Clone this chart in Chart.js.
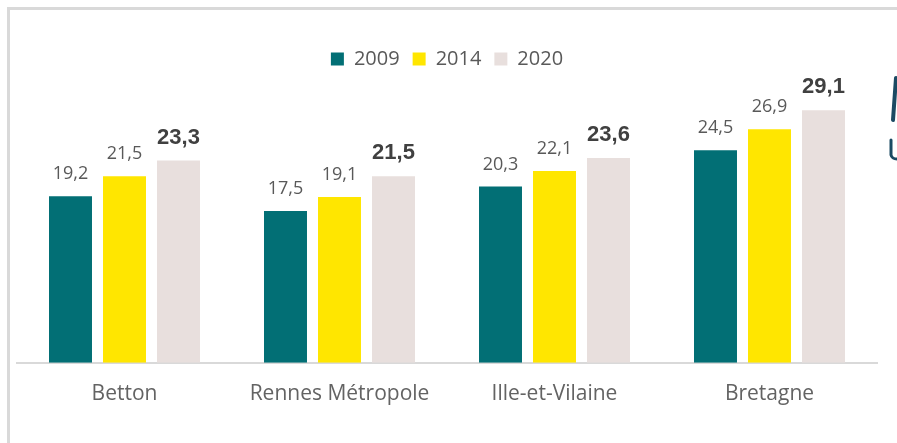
<!DOCTYPE html>
<html>
<head>
<meta charset="utf-8">
<script src="https://cdn.jsdelivr.net/npm/chart.js@4"></script>
<style>
  html, body { margin: 0; padding: 0; background: #fff; overflow: hidden; }
  #wrap { position: relative; width: 897px; height: 443px; }
  #frame {
    position: absolute; left: 7px; top: 7px; right: -10px; bottom: -10px;
    border-left: 3px solid #d9d9d9; border-top: 3px solid #d9d9d9;
  }
  canvas { position: absolute; left: 0; top: 0; }
</style>
</head>
<body>
<div id="wrap">
  <div id="frame"></div>
  <canvas id="chart" width="897" height="443"></canvas>
</div>
<script>
const categories = ['Betton', 'Rennes Métropole', 'Ille-et-Vilaine', 'Bretagne'];
const seriesNames = ['2009', '2014', '2020'];
const values2009 = [19.2, 17.5, 20.3, 24.5];
const values2014 = [21.5, 19.1, 22.1, 26.9];
const values2020 = [23.3, 21.5, 23.6, 29.1];
const colors = ['#026f75', '#ffe600', '#e8dfdd'];

const fmt = v => v.toFixed(1).replace('.', ',');

// value labels above each bar, last series in bold
const barLabels = {
    id: 'barLabels',
    afterDatasetsDraw(chart) {
        const ctx = chart.ctx;
        ctx.save();
        ctx.textAlign = 'center';
        ctx.textBaseline = 'alphabetic';
        chart.data.datasets.forEach((ds, i) => {
            const meta = chart.getDatasetMeta(i);
            const last = i === chart.data.datasets.length - 1;
            ctx.font = last ? 'bold 22px "Liberation Sans", Arial' : '18px "Open Sans"';
            ctx.fillStyle = last ? '#404040' : '#595959';
            meta.data.forEach((bar, j) => {
                ctx.fillText(fmt(ds.data[j]), bar.x, bar.y - 17);
            });
        });
        ctx.restore();
    }
};

// cut-off logo fragment on the right edge
const edgeLogo = {
    id: 'edgeLogo',
    afterDraw(chart) {
        const ctx = chart.ctx;
        ctx.save();
        ctx.strokeStyle = '#1b4a63';
        ctx.lineCap = 'round';
        ctx.lineWidth = 4;
        ctx.beginPath();
        ctx.moveTo(896, 78);
        ctx.lineTo(893, 120);
        ctx.stroke();
        ctx.lineWidth = 3;
        ctx.beginPath();
        ctx.moveTo(891, 140);
        ctx.lineTo(891, 155);
        ctx.quadraticCurveTo(892, 159, 897, 159);
        ctx.stroke();
        ctx.restore();
    }
};

new Chart(document.getElementById('chart'), {
    type: 'bar',
    data: {
        labels: categories,
        datasets: [
            { label: seriesNames[0], data: values2009, backgroundColor: colors[0] },
            { label: seriesNames[1], data: values2014, backgroundColor: colors[1] },
            { label: seriesNames[2], data: values2020, backgroundColor: colors[2] }
        ]
    },
    options: {
        responsive: false,
        animation: false,
        layout: { padding: { left: 17, right: 20, top: 36, bottom: 17 } },
        datasets: {
            bar: { categoryPercentage: 0.7535, barPercentage: 0.796 }
        },
        plugins: {
            legend: {
                position: 'top',
                labels: {
                    boxWidth: 13,
                    boxHeight: 13,
                    padding: 13,
                    color: '#595959',
                    font: { family: '"Open Sans"', size: 20 }
                }
            },
            tooltip: { enabled: false }
        },
        scales: {
            x: {
                grid: { display: false, drawTicks: false },
                border: { display: true, color: '#d9d9d9', width: 2 },
                ticks: {
                    padding: 19,
                    color: '#636363',
                    font: { family: '"Open Sans"', size: 21 }
                }
            },
            y: {
                display: false,
                min: 0,
                max: 32.7
            }
        }
    },
    plugins: [barLabels, edgeLogo]
});
</script>
</body>
</html>
